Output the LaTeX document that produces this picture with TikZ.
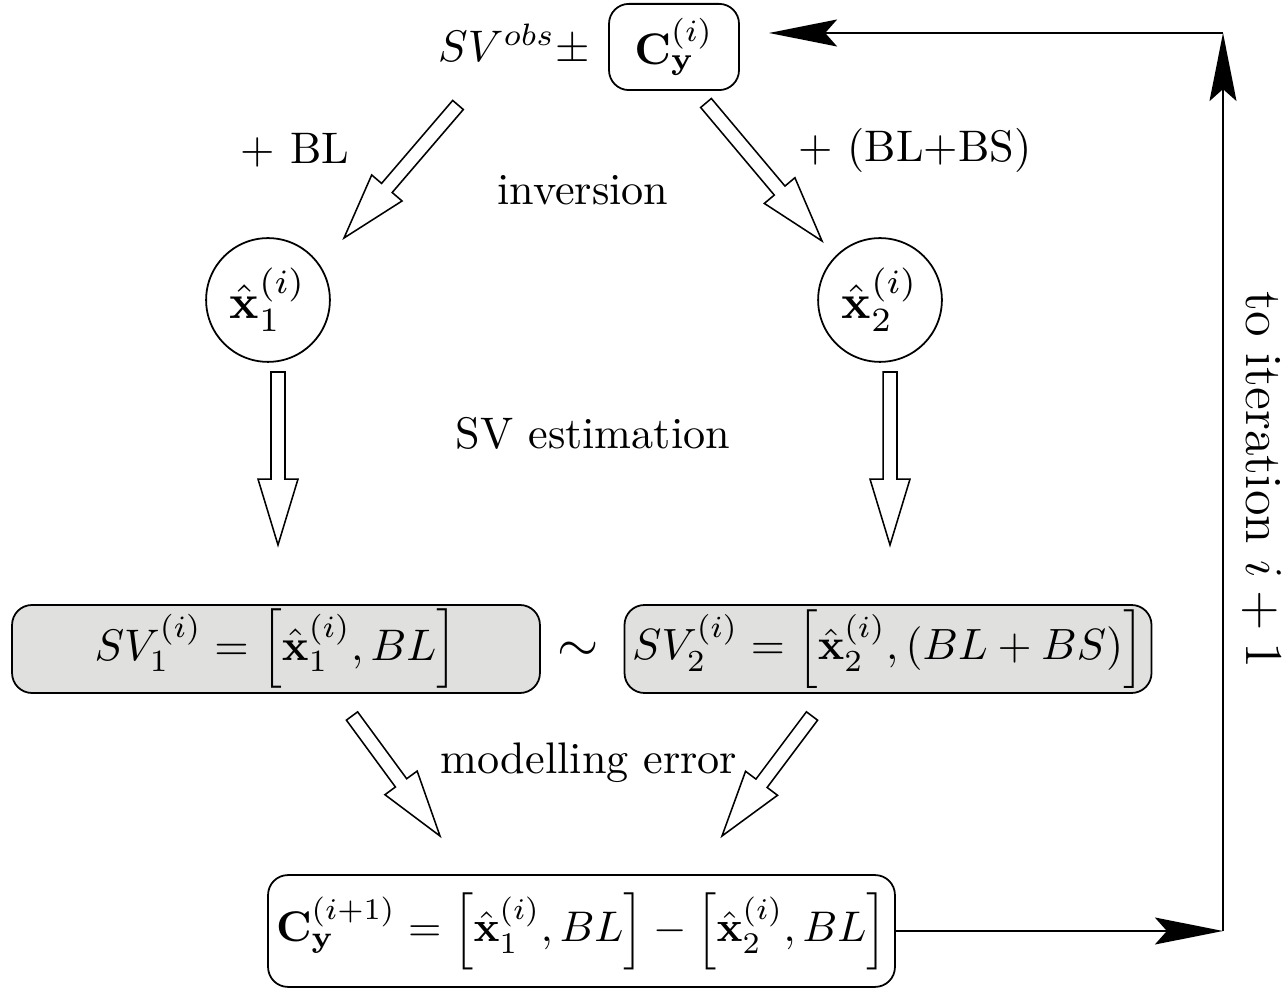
\documentclass[tikz,border=0pt]{standalone}
\usepackage{amsmath}
\usetikzlibrary{arrows.meta,calc}
\definecolor{boxgray}{RGB}{224,225,222}
\newcommand\fatarrow[2]{%
  \coordinate (faq) at ($(#2)!14.9pt!(#1)$);
  \draw[fatarrowstyle] ($(#1)!1.58pt!90:(#2)$) -- ($(faq)!1.58pt!90:(#2)$)
    -- ($(faq)!4.52pt!90:(#2)$) -- (#2) -- ($(faq)!4.52pt!-90:(#2)$)
    -- ($(faq)!1.58pt!-90:(#2)$) -- ($(#1)!1.58pt!-90:(#2)$) -- cycle;
}
\tikzset{
  fatarrowstyle/.style={draw, fill=white, line width=0.35pt, line join=miter},
  graybox/.style={draw, rounded corners=4.5pt, fill=boxgray, minimum width=119.4pt, minimum height=19.9pt, inner sep=0pt},
  whitebox/.style={draw, rounded corners=4.5pt, fill=white, inner sep=0pt},
  circnode/.style={draw, circle, minimum size=28pt, inner sep=0pt},
  lbl/.style={inner sep=0pt},
  loop/.style={line width=0.4pt, -{Stealth[length=15.4pt, width=6.1pt, inset=2.7pt]}}
}
\begin{document}
\begin{tikzpicture}[x=0.2262pt,y=-0.2262pt]
\useasboundingbox (0,0) rectangle (1284,991);
% top
\node[lbl] (obs) at (514,45) {$SV^{obs}\pm$};
\node[whitebox, minimum width=29.4pt, minimum height=19.5pt] (cy) at (674,47) {$\mathbf{C}_{\mathbf{y}}^{(i)}$};
% circles
\node[circnode] (x1) at (268,300) {\scalebox{1.1}{$\hat{\mathbf{x}}_1^{(i)}$}};
\node[circnode] (x2) at (880,300) {\scalebox{1.1}{$\hat{\mathbf{x}}_2^{(i)}$}};
% gray boxes
\node[graybox] (sv1) at (276,649) {$SV_1^{(i)}=\left[\hat{\mathbf{x}}_1^{(i)},BL\right]$\hspace{8pt}};
\node[graybox, minimum width=119.2pt] (sv2) at (888,649) {\scalebox{0.99}{$SV_2^{(i)}=\left[\hat{\mathbf{x}}_2^{(i)},(BL+BS)\right]$}};
\node[lbl] (sim) at (578,652) {\scalebox{1.2}{$\sim$}};
% bottom box
\node[whitebox, minimum width=141.8pt, minimum height=25.3pt] (cnew) at (581.5,931) {\scalebox{0.97}{$\mathbf{C}_{\mathbf{y}}^{(i+1)}=\left[\hat{\mathbf{x}}_1^{(i)},BL\right]-\left[\hat{\mathbf{x}}_2^{(i)},BL\right]$}};
% labels
\node[lbl] (lbl1) at (295,150) {+ BL};
\node[lbl] (lbl2) at (915,150) {+ (BL+BS)};
\node[lbl] (inv) at (583,190) {inversion};
\node[lbl] (sve) at (593,433) {SV estimation};
\node[lbl] (mod) at (589,763) {modelling error};
\node[lbl, rotate=-90, font=\fontsize{11.8}{14}\selectfont] (iter) at (1262,480) {to iteration $i+1$};
% fat arrows
\coordinate (a1t) at (458,105); \coordinate (a1h) at (344,238);
\coordinate (a2t) at (706,103); \coordinate (a2h) at (822,241);
\coordinate (a3t) at (278,372); \coordinate (a3h) at (278,545);
\coordinate (a4t) at (890,372); \coordinate (a4h) at (890,545);
\coordinate (a5t) at (352,716); \coordinate (a5h) at (440,836);
\coordinate (a6t) at (812,716); \coordinate (a6h) at (722,836);
\fatarrow{a1t}{a1h}
\fatarrow{a2t}{a2h}
\fatarrow{a3t}{a3h}
\fatarrow{a4t}{a4h}
\fatarrow{a5t}{a5h}
\fatarrow{a6t}{a6h}
% loop back
\coordinate (cbr) at (1223,931);
\coordinate (ctr) at (1223,33);
\coordinate (cend) at (769,33);
\draw[loop] (cnew.east) -- (cbr);
\draw[loop] (cbr) -- (ctr);
\draw[loop] (ctr) -- (cend);
\end{tikzpicture}
\end{document}
